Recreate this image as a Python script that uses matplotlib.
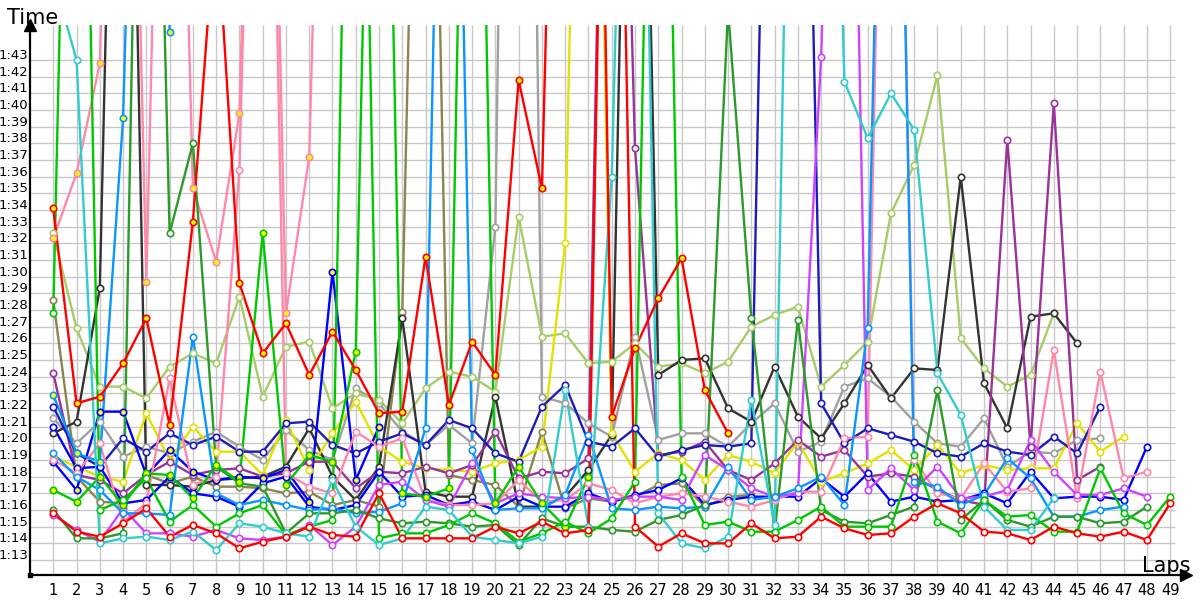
"""Lap chart: lap times per driver over a 49 lap race."""

import matplotlib
matplotlib.use("Agg")
import matplotlib.pyplot as plt
import matplotlib.transforms as mtransforms

# --- data (seconds per lap; values above ~105 s run off the top) ---
lap_numbers = list(range(1, 50))
time_ticks = list(range(73, 104))
time_labels = [f"1:{s - 60:02d}" for s in time_ticks]

red_a = [94.1, 82.4, 82.8, 84.8, 87.5, 81.1, 93.3, 112.0, 89.6, 85.4, 87.2, 84.1, 86.7, 84.4, 81.8,
         81.9, 91.2, 82.3, 86.1, 84.1, 101.8, 95.3, 150.0, 168.0, 81.6, 85.7, 88.7, 91.1, 83.2, 80.6]
red_b = [75.8, 74.7, 74.4, 75.2, 76.1, 74.4, 75.1, 74.6, 73.7, 74.1, 74.4, 75.0, 74.5, 74.4, 77.0,
         74.3, 74.3, 74.3, 74.3, 75.0, 74.6, 75.3, 74.6, 74.8, 150.0, 75.0, 73.8, 74.6, 74.0, 74.0,
         75.2, 74.3, 74.4, 75.6, 74.9, 74.5, 74.6, 75.6, 76.4, 75.8, 74.7, 74.6, 74.2, 75.0, 74.6,
         74.4, 74.7, 74.2, 76.4]
lime = [92.6, 86.9, 83.4, 83.4, 82.7, 84.6, 85.4, 84.8, 88.8, 82.8, 85.8, 86.1, 82.1, 83.0, 82.6,
        81.2, 83.3, 84.3, 84.0, 83.1, 93.6, 86.4, 86.6, 84.8, 84.9, 86.0, 84.6, 84.8, 84.2, 84.9,
        87.0, 87.7, 88.2, 83.4, 84.7, 86.1, 93.8, 96.7, 102.1, 86.3, 84.5, 83.4, 84.1, 87.8]
black = [80.6, 81.3, 89.3, 150.0, 77.5, 77.5, 77.4, 77.8, 77.9, 78.0, 78.6, 80.9, 78.0, 76.6, 78.6,
         87.5, 77.1, 76.8, 76.8, 82.8, 76.2, 76.2, 76.8, 78.4, 80.5, 150.0, 84.1, 85.0, 85.1, 82.1,
         81.3, 84.6, 81.6, 80.3, 82.4, 84.7, 82.7, 84.5, 84.4, 96.0, 83.6, 80.9, 87.6, 87.8, 86.0]
gray = [81.5, 80.0, 81.3, 79.2, 79.8, 79.4, 80.1, 80.7, 79.8, 79.0, 80.8, 79.6, 79.0, 83.3, 82.4,
        80.7, 79.9, 81.1, 80.0, 93.0, 190.0, 82.8, 82.4, 81.2, 80.4, 86.4, 80.2, 80.6, 80.6, 79.8,
        81.2, 82.4, 79.5, 80.1, 83.4, 83.9, 82.8, 81.3, 80.0, 79.8, 81.5, 78.6, 79.5, 79.4, 80.2, 80.3]
navy = [82.2, 79.4, 78.6, 80.3, 79.5, 80.6, 79.9, 80.4, 79.5, 79.5, 81.2, 81.3, 79.9, 79.4, 80.1,
        80.6, 79.9, 81.4, 80.9, 79.4, 78.9, 82.2, 83.5, 80.1, 79.8, 80.9, 79.2, 79.6, 79.9, 79.8,
        80.0, 150.0, 150.0, 82.4, 80.0, 80.9, 80.5, 80.1, 79.4, 79.2, 80.0, 79.5, 79.3, 80.4, 79.4, 82.2]
blue = [81.0, 78.5, 78.6, 76.4, 76.6, 78.0, 77.0, 76.8, 76.2, 77.6, 78.0, 76.2, 76.0, 76.3, 78.3,
        76.8, 76.9, 76.3, 76.5, 76.0, 76.8, 76.2, 76.2, 77.0, 76.5, 76.9, 77.2, 77.9, 76.3, 76.6,
        76.8, 76.8, 76.8, 77.9, 76.8, 78.2, 76.5, 76.8, 76.5, 76.6, 77.0, 76.4, 78.3, 76.7, 76.8,
        76.8, 76.6, 79.8]
blue_y = [78.9, 77.2, 81.9, 81.9, 78.1, 79.6, 78.3, 77.8, 78.0, 77.9, 78.4, 76.5, 90.3, 77.8, 81.0]
dodger_y = [82.9, 79.4, 78.9, 99.5, 150.0, 104.7]
dodger = [79.4, 78.0, 77.2, 75.8, 75.8, 75.7, 86.4, 77.0, 76.3, 76.6, 76.3, 76.0, 76.1, 75.8, 75.9,
          76.4, 80.9, 150.0, 79.6, 76.0, 76.1, 76.1, 76.9, 80.5, 76.1, 76.0, 76.2, 76.1, 76.2, 78.6,
          76.6, 76.8, 77.3, 78.0, 76.3, 86.9, 150.0, 77.7, 77.4, 76.3, 76.9, 79.1, 77.9, 75.6, 75.6,
          76.0, 76.2]
cyan = [108.0, 103.0, 74.0, 74.3, 74.4, 74.2, 74.7, 73.6, 75.2, 75.0, 74.6, 74.4, 77.8, 75.0, 73.9,
        74.3, 76.2, 76.0, 74.4, 74.2, 74.0, 74.4, 83.2, 75.0, 96.0, 150.0, 75.8, 74.0, 73.7, 74.4,
        82.6, 75.1, 150.0, 150.0, 101.7, 98.3, 101.0, 98.8, 84.2, 81.7, 76.2, 74.8, 74.8, 76.7]
violet = [75.7, 74.8, 74.1, 76.1, 74.6, 74.6, 74.4, 74.8, 74.3, 74.2, 74.4, 75.1, 73.9, 75.0, 77.5,
          77.7, 76.6, 76.2, 78.8, 76.4, 77.0, 76.8, 76.7, 76.8, 76.6, 76.8, 76.8, 76.6, 79.3, 78.4,
          77.3, 76.8, 77.0, 103.2, 150.0, 77.2, 78.5, 77.2, 78.6, 76.7, 76.8, 77.2, 80.2, 78.3, 76.9,
          76.9, 77.3, 76.8]
purple = [84.2, 78.1, 77.8, 77.0, 78.1, 78.9, 78.1, 78.4, 78.5, 78.0, 78.2, 78.9, 78.9, 77.3, 78.3,
          78.2, 78.6, 78.2, 78.7, 80.7, 77.9, 78.3, 78.2, 79.1, 150.0, 97.7, 79.3, 79.5, 80.1, 78.4,
          77.8, 78.8, 80.2, 79.2, 79.6, 78.0, 78.2, 78.0, 77.2, 76.6, 76.3, 98.2, 79.8, 100.4, 77.8, 78.6]
yellow = [79.2, 78.6, 78.0, 77.7, 81.8, 79.0, 81.0, 79.5, 79.5, 78.1, 81.4, 78.4, 80.6, 82.5, 79.8,
          78.9, 78.5, 78.4, 78.3, 78.8, 79.0, 79.8, 92.0, 157.0, 80.6, 78.3, 79.4, 79.0, 77.8, 79.3,
          78.9, 78.2, 80.1, 77.7, 78.2, 78.8, 79.6, 78.4, 79.9, 78.2, 78.7, 78.4, 78.5, 78.5, 81.2,
          79.5, 80.4]
olive = [88.6, 78.0, 76.5, 76.4, 78.1, 77.6, 78.0, 77.4, 77.4, 77.3, 77.0, 77.1, 76.3, 76.6, 76.2,
         87.9, 150.0, 78.1, 77.8, 77.5, 76.2, 80.7, 76.1, 76.7, 76.5, 76.8, 77.5, 77.6, 76.2, 76.8, 76.9]
forest = [76.0, 74.3, 74.3, 74.6, 150.0, 92.6, 98.0, 78.6, 77.6, 77.4, 74.6, 75.8, 75.8, 76.0, 75.5,
          75.2, 75.3, 75.2, 75.0, 75.1, 73.9, 75.5, 75.0, 75.0, 74.8, 74.7, 75.4, 75.7, 76.3, 106.0,
          87.5, 74.7, 87.4, 76.0, 75.3, 75.2, 75.7, 76.2, 83.2, 75.4, 76.6, 75.4, 75.0, 75.6, 75.6,
          75.2, 75.3, 76.2]
green_a = [87.8, 150.0, 76.0, 76.6, 77.9, 75.3, 76.3, 75.0, 75.8, 76.3, 74.5, 75.0, 75.4, 150.0, 74.3,
           74.6, 74.6, 75.1, 75.8, 75.2, 74.1, 74.6, 75.3, 74.6, 75.5, 77.7, 150.0, 78.0, 75.1, 75.3,
           74.7, 74.7, 75.4, 76.2, 75.0, 75.0, 75.0, 79.3, 75.3, 74.6, 76.6, 75.6, 75.7, 74.7, 74.7,
           78.5, 75.8, 75.1, 76.8]
green_b = [77.2, 76.5, 78.0, 76.3, 78.2, 78.1, 76.7, 78.7, 77.7, 92.6, 77.5, 79.3, 78.9, 85.5, 150.0,
           77.0, 76.8, 77.3, 150.0, 76.4, 78.6, 76.4, 75.0, 78.0]
pink_y = [92.3, 96.2, 102.8, 150.0, 89.7, 150.0, 95.3, 90.9, 99.8, 150.0, 87.8, 97.2, 150.0]
pink = [79.0, 78.2, 80.0, 75.3, 76.4, 83.9, 77.5, 78.0, 96.4, 150.0, 78.2, 77.4, 77.0, 80.7, 79.8,
        80.3, 76.6, 76.3, 76.3, 76.4, 77.8, 76.5, 76.6, 77.6, 77.2, 76.4, 76.8, 77.0, 76.8, 76.5,
        76.2, 76.6, 77.1, 77.1, 80.3, 80.4, 150.0, 79.0, 77.0, 76.7, 78.8, 77.1, 77.3, 85.6, 76.7,
        84.3, 77.9, 78.3]

# (values, line colour, marker fill)
series = [
    (gray, "#a0a0a0", "white"),
    (olive, "#8a8450", "white"),
    (lime, "#a6cc68", "white"),
    (black, "#333333", "white"),
    (yellow, "#e2e200", "white"),
    (purple, "#993399", "white"),
    (navy, "#1c1cb8", "white"),
    (blue, "#0000ff", "white"),
    (blue_y, "#0000ff", "#ffff00"),
    (pink, "#ff88aa", "white"),
    (pink_y, "#ff88aa", "#ffff00"),
    (violet, "#cc44ff", "white"),
    (dodger, "#0a96ff", "white"),
    (dodger_y, "#0a96ff", "#ffff00"),
    (forest, "#2a9a2a", "white"),
    (green_b, "#00c800", "#ffff00"),
    (green_a, "#00c800", "white"),
    (cyan, "#33cccc", "white"),
    (red_b, "#ff0000", "white"),
    (red_a, "#ff0000", "#ffff00"),
]

fig = plt.figure(figsize=(12, 6), dpi=100)
ax = fig.add_axes([30 / 1200, 25 / 600, 1156 / 1200, 550 / 600])
ax.set_xlim(0, 49.68)
ax.set_ylim(72.1, 105.1)

# Grid drawn by hand so it stops short of the arrow heads
ax.vlines(lap_numbers, 72.1, 105.1, color="#c8c8c8", lw=1, zorder=0)
ax.hlines(time_ticks, 0, 49.2, color="#c8c8c8", lw=1, zorder=0)

for values, color, face in series:
    laps = lap_numbers[:len(values)]
    ax.plot(laps, values, color=color, lw=1.7, zorder=2, solid_joinstyle="round")
    ax.plot(laps, values, ls="none", marker="o", ms=4.6, mew=1.2,
            mec=color, mfc=face, zorder=3)

for side in ("top", "right"):
    ax.spines[side].set_visible(False)
for side in ("left", "bottom"):
    ax.spines[side].set_linewidth(1.6)
    ax.spines[side].set_color("black")

# Arrow heads and origin dot
ax.plot([0], [1], marker="^", ms=8, color="black", transform=ax.transAxes, clip_on=False)
ax.plot([1], [0], marker=">", ms=8, color="black", transform=ax.transAxes, clip_on=False)
ax.plot([0], [0], marker="s", ms=3, color="black", transform=ax.transAxes, clip_on=False)

ax.set_xticks(lap_numbers)
ax.set_xticklabels([str(n) for n in lap_numbers], fontsize=10.5)
ax.set_yticks(time_ticks)
ax.set_yticklabels(time_labels, fontsize=9.5)
ax.tick_params(axis="x", length=0, pad=6)
ax.tick_params(axis="y", length=0, pad=1)

# y labels sit a little above their grid lines
offset = mtransforms.ScaledTranslation(0, 6 / 100, fig.dpi_scale_trans)
for lbl in ax.get_yticklabels():
    lbl.set_transform(lbl.get_transform() + offset)

fig.text(7 / 1200, 1 - 18 / 600, "Time", fontsize=15, va="center", ha="left")
fig.text(1142 / 1200, 1 - 566 / 600, "Laps", fontsize=15, va="center", ha="left")

fig.savefig("out.png", dpi=100)
plt.close(fig)
